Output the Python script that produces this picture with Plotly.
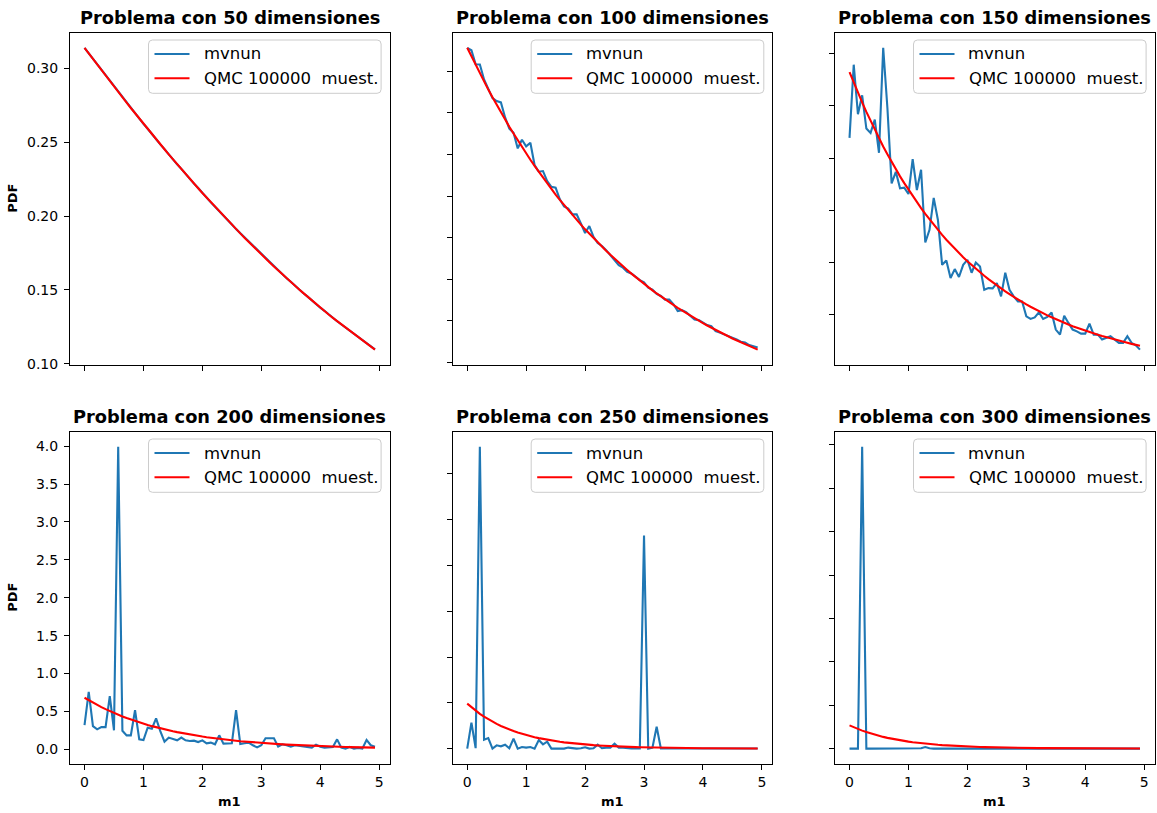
import numpy as np
import plotly.graph_objects as go

# m1 grid shared by every panel
M1 = np.linspace(0, 5, 70, endpoint=False)

DIMENSIONS = [50, 100, 150, 200, 250, 300]

# ---- 50 dimensions ----
MVNUN_50 = [0.3141, 0.3104, 0.3064, 0.3028, 0.2989, 0.2953, 0.2914, 0.2879, 0.2841, 0.2806,
            0.2768, 0.2734, 0.2696, 0.2662, 0.2625, 0.2592, 0.2555, 0.2522, 0.2486, 0.2454,
            0.2418, 0.2386, 0.2351, 0.2320, 0.2285, 0.2254, 0.2220, 0.2190, 0.2156, 0.2127,
            0.2093, 0.2064, 0.2032, 0.2003, 0.1971, 0.1943, 0.1912, 0.1884, 0.1853, 0.1826,
            0.1796, 0.1770, 0.1740, 0.1714, 0.1685, 0.1660, 0.1631, 0.1607, 0.1579, 0.1555,
            0.1527, 0.1504, 0.1477, 0.1454, 0.1427, 0.1405, 0.1379, 0.1358, 0.1332, 0.1311,
            0.1287, 0.1266, 0.1242, 0.1222, 0.1198, 0.1179, 0.1156, 0.1137, 0.1115, 0.1096]
QMC_50 = [0.3141, 0.3103, 0.3065, 0.3027, 0.2990, 0.2952, 0.2915, 0.2878, 0.2842, 0.2805,
          0.2769, 0.2733, 0.2697, 0.2661, 0.2626, 0.2591, 0.2556, 0.2521, 0.2487, 0.2453,
          0.2419, 0.2385, 0.2352, 0.2319, 0.2286, 0.2253, 0.2221, 0.2189, 0.2157, 0.2126,
          0.2094, 0.2063, 0.2033, 0.2002, 0.1972, 0.1942, 0.1913, 0.1883, 0.1854, 0.1825,
          0.1797, 0.1769, 0.1741, 0.1713, 0.1686, 0.1659, 0.1632, 0.1606, 0.1580, 0.1554,
          0.1528, 0.1503, 0.1478, 0.1453, 0.1428, 0.1404, 0.1380, 0.1357, 0.1333, 0.1310,
          0.1288, 0.1265, 0.1243, 0.1221, 0.1199, 0.1178, 0.1157, 0.1136, 0.1116, 0.1095]

# ---- 100 dimensions ----
MVNUN_100 = [0.3140, 0.3125, 0.3041, 0.3040, 0.2950, 0.2893, 0.2838, 0.2820, 0.2812, 0.2722,
             0.2655, 0.2630, 0.2536, 0.2588, 0.2548, 0.2570, 0.2436, 0.2396, 0.2400, 0.2340,
             0.2305, 0.2300, 0.2230, 0.2187, 0.2175, 0.2140, 0.2140, 0.2085, 0.2028, 0.2070,
             0.2005, 0.1968, 0.1950, 0.1925, 0.1895, 0.1870, 0.1835, 0.1820, 0.1795, 0.1785,
             0.1765, 0.1745, 0.1732, 0.1700, 0.1688, 0.1663, 0.1650, 0.1628, 0.1628, 0.1600,
             0.1559, 0.1565, 0.1553, 0.1530, 0.1509, 0.1505, 0.1489, 0.1475, 0.1469, 0.1439,
             0.1430, 0.1420, 0.1410, 0.1397, 0.1389, 0.1375, 0.1370, 0.1355, 0.1349, 0.1340]
QMC_100 = [0.3140, 0.3088, 0.3036, 0.2986, 0.2937, 0.2889, 0.2843, 0.2797, 0.2752, 0.2709,
           0.2666, 0.2625, 0.2584, 0.2545, 0.2506, 0.2468, 0.2431, 0.2395, 0.2360, 0.2326,
           0.2292, 0.2259, 0.2227, 0.2196, 0.2166, 0.2136, 0.2107, 0.2078, 0.2050, 0.2023,
           0.1997, 0.1971, 0.1945, 0.1921, 0.1897, 0.1873, 0.1850, 0.1828, 0.1806, 0.1784,
           0.1763, 0.1743, 0.1723, 0.1703, 0.1684, 0.1665, 0.1647, 0.1630, 0.1612, 0.1595,
           0.1579, 0.1563, 0.1547, 0.1531, 0.1516, 0.1502, 0.1487, 0.1473, 0.1459, 0.1446,
           0.1433, 0.1420, 0.1408, 0.1395, 0.1384, 0.1372, 0.1361, 0.1349, 0.1339, 0.1328]

# ---- 150 dimensions ----
MVNUN_150 = [0.2193, 0.2895, 0.2420, 0.2601, 0.2283, 0.2241, 0.2369, 0.2050, 0.3057, 0.2480,
             0.1757, 0.1868, 0.1709, 0.1715, 0.1655, 0.1990, 0.1693, 0.1888, 0.1190, 0.1311,
             0.1618, 0.1406, 0.0976, 0.1017, 0.0849, 0.0935, 0.0859, 0.0976, 0.1024, 0.0900,
             0.0998, 0.0960, 0.0737, 0.0753, 0.0750, 0.0801, 0.0673, 0.0900, 0.0737, 0.0673,
             0.0625, 0.0625, 0.0482, 0.0457, 0.0472, 0.0520, 0.0457, 0.0476, 0.0520, 0.0355,
             0.0307, 0.0488, 0.0419, 0.0355, 0.0338, 0.0316, 0.0316, 0.0412, 0.0307, 0.0307,
             0.0259, 0.0275, 0.0291, 0.0259, 0.0228, 0.0228, 0.0291, 0.0228, 0.0205, 0.0163]
QMC_150 = [0.2824, 0.2723, 0.2626, 0.2533, 0.2442, 0.2355, 0.2271, 0.2190, 0.2111, 0.2036,
           0.1963, 0.1892, 0.1824, 0.1759, 0.1696, 0.1635, 0.1576, 0.1519, 0.1464, 0.1411,
           0.1360, 0.1311, 0.1263, 0.1217, 0.1173, 0.1130, 0.1089, 0.1049, 0.1011, 0.0974,
           0.0938, 0.0904, 0.0871, 0.0839, 0.0808, 0.0778, 0.0749, 0.0721, 0.0694, 0.0668,
           0.0643, 0.0619, 0.0596, 0.0574, 0.0552, 0.0531, 0.0511, 0.0491, 0.0473, 0.0454,
           0.0437, 0.0420, 0.0404, 0.0388, 0.0373, 0.0358, 0.0344, 0.0331, 0.0317, 0.0305,
           0.0293, 0.0281, 0.0269, 0.0258, 0.0248, 0.0237, 0.0228, 0.0218, 0.0209, 0.0200]

# ---- 200 dimensions ----
MVNUN_200 = [0.320, 0.758, 0.306, 0.263, 0.293, 0.293, 0.701, 0.250, 3.992, 0.245,
             0.184, 0.184, 0.515, 0.131, 0.123, 0.285, 0.272, 0.407, 0.241, 0.101,
             0.154, 0.131, 0.118, 0.154, 0.118, 0.110, 0.114, 0.096, 0.118, 0.079,
             0.088, 0.066, 0.184, 0.075, 0.079, 0.079, 0.517, 0.070, 0.079, 0.088,
             0.053, 0.026, 0.053, 0.145, 0.145, 0.145, 0.035, 0.066, 0.053, 0.035,
             0.053, 0.044, 0.044, 0.031, 0.022, 0.061, 0.035, 0.022, 0.022, 0.031,
             0.131, 0.022, 0.009, 0.031, 0.009, 0.018, 0.009, 0.123, 0.053, 0.035]
QMC_200 = [0.6800, 0.6468, 0.6153, 0.5853, 0.5567, 0.5296, 0.5038, 0.4792, 0.4558, 0.4336,
           0.4124, 0.3923, 0.3732, 0.3550, 0.3377, 0.3212, 0.3055, 0.2906, 0.2765, 0.2630,
           0.2502, 0.2380, 0.2264, 0.2153, 0.2048, 0.1948, 0.1853, 0.1763, 0.1677, 0.1595,
           0.1517, 0.1443, 0.1373, 0.1306, 0.1242, 0.1182, 0.1124, 0.1069, 0.1017, 0.0967,
           0.0920, 0.0875, 0.0833, 0.0792, 0.0753, 0.0717, 0.0682, 0.0649, 0.0617, 0.0587,
           0.0558, 0.0531, 0.0505, 0.0480, 0.0457, 0.0435, 0.0414, 0.0393, 0.0374, 0.0356,
           0.0339, 0.0322, 0.0306, 0.0291, 0.0277, 0.0264, 0.0251, 0.0239, 0.0227, 0.0216]

# ---- 250 dimensions ----
MVNUN_250 = [0.000, 0.283, 0.005, 3.297, 0.097, 0.115, 0.000, 0.036, 0.025, 0.043,
             0.004, 0.109, 0.000, 0.018, 0.011, 0.018, 0.000, 0.094, 0.047, 0.076,
             0.000, 0.000, 0.004, 0.000, 0.011, 0.004, 0.000, 0.004, 0.014, 0.000,
             0.004, 0.043, 0.004, 0.011, 0.011, 0.054, 0.011, 0.011, 0.004, 0.003,
             0.003, 0.002, 2.329, 0.000, 0.010, 0.239, 0.002, 0.002, 0.003, 0.001,
             0.002, 0.001, 0.003, 0.001, 0.001, 0.002, 0.001, 0.001, 0.001, 0.002,
             0.001, 0.001, 0.000, 0.001, 0.001, 0.000, 0.001, 0.000, 0.001, 0.001]
QMC_250 = [0.4920, 0.4516, 0.4145, 0.3804, 0.3492, 0.3205, 0.2942, 0.2700, 0.2478, 0.2275,
           0.2088, 0.1916, 0.1759, 0.1614, 0.1482, 0.1360, 0.1248, 0.1146, 0.1052, 0.0965,
           0.0886, 0.0813, 0.0746, 0.0685, 0.0629, 0.0577, 0.0530, 0.0486, 0.0446, 0.0410,
           0.0376, 0.0345, 0.0317, 0.0291, 0.0267, 0.0245, 0.0225, 0.0206, 0.0189, 0.0174,
           0.0160, 0.0146, 0.0134, 0.0123, 0.0113, 0.0104, 0.0095, 0.0088, 0.0080, 0.0074,
           0.0068, 0.0062, 0.0057, 0.0052, 0.0048, 0.0044, 0.0040, 0.0037, 0.0034, 0.0031,
           0.0029, 0.0026, 0.0024, 0.0022, 0.0020, 0.0019, 0.0017, 0.0016, 0.0014, 0.0013]

# ---- 300 dimensions ----
MVNUN_300 = [0.000, 0.000, 0.000, 3.478, 0.000, 0.000, 0.000, 0.000, 0.000, 0.000,
             0.000, 0.000, 0.000, 0.000, 0.000, 0.000, 0.000, 0.004, 0.018, 0.004,
             0.000, 0.000, 0.000, 0.000, 0.000, 0.000, 0.000, 0.000, 0.000, 0.000,
             0.000, 0.000, 0.000, 0.000, 0.000, 0.000, 0.000, 0.000, 0.000, 0.000,
             0.000, 0.000, 0.000, 0.000, 0.000, 0.000, 0.000, 0.000, 0.000, 0.000,
             0.000, 0.000, 0.000, 0.000, 0.000, 0.000, 0.000, 0.000, 0.000, 0.000,
             0.000, 0.000, 0.000, 0.000, 0.000, 0.000, 0.000, 0.000, 0.000, 0.000]
QMC_300 = [0.2680, 0.2460, 0.2258, 0.2072, 0.1902, 0.1746, 0.1602, 0.1471, 0.1350, 0.1239,
           0.1137, 0.1044, 0.0958, 0.0879, 0.0807, 0.0741, 0.0680, 0.0624, 0.0573, 0.0526,
           0.0483, 0.0443, 0.0407, 0.0373, 0.0343, 0.0314, 0.0289, 0.0265, 0.0243, 0.0223,
           0.0205, 0.0188, 0.0173, 0.0158, 0.0145, 0.0133, 0.0122, 0.0112, 0.0103, 0.0095,
           0.0087, 0.0080, 0.0073, 0.0067, 0.0062, 0.0057, 0.0052, 0.0048, 0.0044, 0.0040,
           0.0037, 0.0034, 0.0031, 0.0029, 0.0026, 0.0024, 0.0022, 0.0020, 0.0019, 0.0017,
           0.0016, 0.0014, 0.0013, 0.0012, 0.0011, 0.0010, 0.0009, 0.0009, 0.0008, 0.0007]

MVNUN = [MVNUN_50, MVNUN_100, MVNUN_150, MVNUN_200, MVNUN_250, MVNUN_300]
QMC = [QMC_50, QMC_100, QMC_150, QMC_200, QMC_250, QMC_300]
SERIES_NAMES = ["mvnun", "QMC 100000\u00a0 muest."]

# y tick step and label format per panel
Y_DTICK = [0.05, 0.025, 0.05, 0.5, 0.5, 0.5]
Y_FMT = [".2f", ".2f", ".2f", ".1f", ".1f", ".1f"]

# ---- page geometry (pixels) ----
W, H = 1157, 813
COL_LEFT = [70.0, 452.7, 835.0]
COL_W = 319.5
ROW_TOP = [32.7, 431.7]
ROW_H = 332.0

FONT = "DejaVu Sans"
BLUE = "#1f77b4"
RED = "#ff0000"
LINE_W = 2.1

# legend box (pixels, relative to the axes box)
LEG_W, LEG_H = 232.6, 53.3
LEG_INSET_R, LEG_INSET_T = 8.4, 7.3
LEG_ROWS = [14.0, 38.3]
LEG_LINE = (6.0, 41.0)
LEG_TEXT_X = 53.0
LEG_RADIUS = 4.0


def px_x(p):
    return p / W


def px_y(p):
    return 1 - p / H


def padded(values):
    lo, hi = float(np.min(values)), float(np.max(values))
    pad = 0.05 * (hi - lo)
    return [lo - pad, hi + pad]


def rounded_box(x0, y0, x1, y1, r):
    """Rounded rectangle path in paper coordinates from pixel corners."""
    X0, X1 = px_x(x0), px_x(x1)
    Yt, Yb = px_y(y0), px_y(y1)
    rx, ry = r / W, r / H
    return (f"M {X0 + rx},{Yt} L {X1 - rx},{Yt} Q {X1},{Yt} {X1},{Yt - ry} "
            f"L {X1},{Yb + ry} Q {X1},{Yb} {X1 - rx},{Yb} "
            f"L {X0 + rx},{Yb} Q {X0},{Yb} {X0},{Yb + ry} "
            f"L {X0},{Yt - ry} Q {X0},{Yt} {X0 + rx},{Yt} Z")


fig = go.Figure()
layout = dict(
    width=W, height=H, autosize=False,
    margin=dict(l=0, r=0, t=0, b=0, autoexpand=False),
    paper_bgcolor="white", plot_bgcolor="white",
    font=dict(family=FONT, size=14, color="black"),
    showlegend=False,
    annotations=[], shapes=[],
)

x_range = padded(M1)

for k, dims in enumerate(DIMENSIONS):
    n = k + 1
    sfx = "" if n == 1 else str(n)
    row, col = divmod(k, 3)
    left, top = COL_LEFT[col], ROW_TOP[row]
    right = left + COL_W

    for name, ys, color in ((SERIES_NAMES[0], MVNUN[k], BLUE), (SERIES_NAMES[1], QMC[k], RED)):
        fig.add_trace(go.Scatter(
            x=M1, y=ys, mode="lines", name=name,
            line=dict(color=color, width=LINE_W),
            xaxis="x" + sfx, yaxis="y" + sfx,
        ))

    axis_common = dict(
        showgrid=False, zeroline=False, automargin=False,
        showline=True, mirror=True, linecolor="black", linewidth=1.1,
        ticks="outside", ticklen=5, tickwidth=1.1, tickcolor="black",
        tickfont=dict(family=FONT, size=14, color="black"),
    )
    layout["xaxis" + sfx] = dict(
        axis_common,
        domain=[px_x(left), px_x(right)],
        anchor="y" + sfx,
        range=x_range, tick0=0, dtick=1,
        showticklabels=(row == 1),
    )
    layout["yaxis" + sfx] = dict(
        axis_common,
        domain=[px_y(top + ROW_H), px_y(top)],
        anchor="x" + sfx,
        range=padded(list(MVNUN[k]) + list(QMC[k])),
        tick0=0, dtick=Y_DTICK[k], tickformat=Y_FMT[k],
        ticklabelstandoff=3,
        showticklabels=(col == 0),
    )

    # legend: rounded box, line samples and labels
    lx1 = right - LEG_INSET_R
    lx0 = lx1 - LEG_W
    ly0 = top + LEG_INSET_T
    ly1 = ly0 + LEG_H
    layout["shapes"].append(dict(
        type="path", path=rounded_box(lx0, ly0, lx1, ly1, LEG_RADIUS),
        xref="paper", yref="paper", layer="above",
        fillcolor="rgba(255,255,255,0.8)", line=dict(color="#cccccc", width=1),
    ))
    for j, color in enumerate((BLUE, RED)):
        yc = ly0 + LEG_ROWS[j]
        layout["shapes"].append(dict(
            type="line", xref="paper", yref="paper", layer="above",
            x0=px_x(lx0 + LEG_LINE[0]), x1=px_x(lx0 + LEG_LINE[1]),
            y0=px_y(yc), y1=px_y(yc),
            line=dict(color=color, width=LINE_W),
        ))
        layout["annotations"].append(dict(
            text=SERIES_NAMES[j], x=px_x(lx0 + LEG_TEXT_X), y=px_y(yc),
            xref="paper", yref="paper", xanchor="left", yanchor="middle",
            showarrow=False, font=dict(family=FONT, size=16.5, color="black"),
        ))

    # panel title
    layout["annotations"].append(dict(
        text="<b>Problema con %d dimensiones</b>" % dims,
        x=px_x(left + COL_W / 2), y=px_y(top - 15),
        xref="paper", yref="paper", xanchor="center", yanchor="middle",
        showarrow=False, font=dict(family=FONT, size=17.8, color="black"),
    ))
    if col == 0:
        layout["annotations"].append(dict(
            text="<b>PDF</b>", textangle=-90,
            x=px_x(13), y=px_y(top + ROW_H / 2),
            xref="paper", yref="paper", xanchor="center", yanchor="middle",
            showarrow=False, font=dict(family=FONT, size=13, color="black"),
        ))
    if row == 1:
        layout["annotations"].append(dict(
            text="<b>m1</b>",
            x=px_x(left + COL_W / 2), y=px_y(801),
            xref="paper", yref="paper", xanchor="center", yanchor="middle",
            showarrow=False, font=dict(family=FONT, size=13, color="black"),
        ))

fig.update_layout(**layout)
fig.write_html("out.html")
